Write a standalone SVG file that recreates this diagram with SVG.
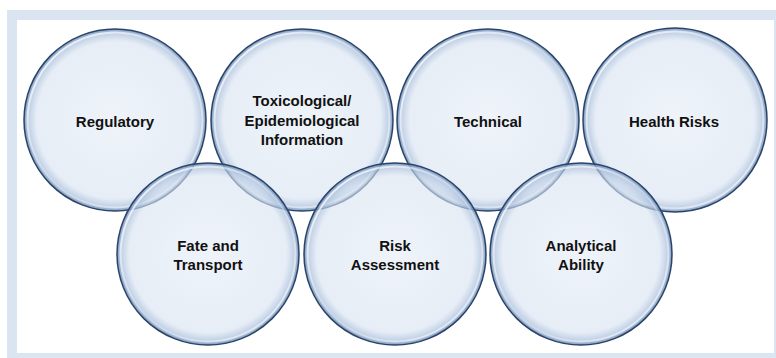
<svg xmlns="http://www.w3.org/2000/svg" width="776" height="358" viewBox="0 0 776 358">
<defs>
<radialGradient id="g" cx="50%" cy="50%" r="50%">
<stop offset="0" stop-color="#e4ecf6" stop-opacity="0.6"/>
<stop offset="0.86" stop-color="#d8e3f1" stop-opacity="0.62"/>
<stop offset="0.95" stop-color="#a9bfdc" stop-opacity="0.72"/>
<stop offset="1" stop-color="#6f8db8" stop-opacity="0.9"/>
</radialGradient>
<linearGradient id="hl" x1="0" y1="0" x2="1" y2="1">
<stop offset="0" stop-color="#ffffff" stop-opacity="0.95"/>
<stop offset="0.5" stop-color="#ffffff" stop-opacity="0.25"/>
<stop offset="1" stop-color="#ffffff" stop-opacity="0.75"/>
</linearGradient>
</defs>
<style>
.c{fill:url(#g);stroke:#2b4568;stroke-width:1.5}
.h{fill:none;stroke:url(#hl);stroke-width:2}
.t{font-family:"Liberation Sans",Arial,sans-serif;font-weight:bold;font-size:15px;fill:#111;text-anchor:middle}
</style>
<rect x="7" y="10" width="769" height="348" fill="#dae5f1"/>
<rect x="17" y="20" width="757" height="333" fill="#ffffff"/>
<g id="regulatory"><circle class="c" cx="115" cy="120" r="91"/><circle class="h" cx="115" cy="120" r="87.5"/><text class="t" x="115" y="127">Regulatory</text></g>
<g id="toxicological"><circle class="c" cx="302" cy="120" r="91"/><circle class="h" cx="302" cy="120" r="87.5"/><text class="t" x="302" y="106">Toxicological/</text><text class="t" x="302" y="126">Epidemiological</text><text class="t" x="302" y="145">Information</text></g>
<g id="technical"><circle class="c" cx="488" cy="120" r="91"/><circle class="h" cx="488" cy="120" r="87.5"/><text class="t" x="488" y="127">Technical</text></g>
<g id="health-risks"><circle class="c" cx="675" cy="120" r="92"/><circle class="h" cx="675" cy="120" r="88.5"/><text class="t" x="674" y="127">Health Risks</text></g>
<g id="fate"><circle class="c" cx="208" cy="254" r="91"/><circle class="h" cx="208" cy="254" r="87.5"/><text class="t" x="208" y="251">Fate and</text><text class="t" x="208" y="270">Transport</text></g>
<g id="risk"><circle class="c" cx="395" cy="254" r="91"/><circle class="h" cx="395" cy="254" r="87.5"/><text class="t" x="395" y="251">Risk</text><text class="t" x="395" y="270">Assessment</text></g>
<g id="analytical"><circle class="c" cx="581" cy="254" r="91"/><circle class="h" cx="581" cy="254" r="87.5"/><text class="t" x="581" y="251">Analytical</text><text class="t" x="581" y="270">Ability</text></g>
<g id="connectors"></g>
</svg>
